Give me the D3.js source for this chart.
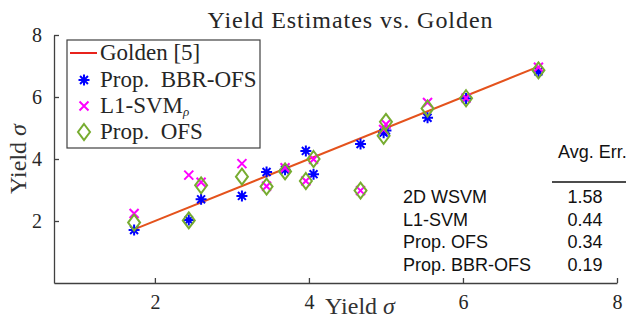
<!DOCTYPE html>
<html lang="en">
<head>
  <script src="https://d3js.org/d3.v7.min.js"></script>
  <style>
    body { margin: 0; background: #fff; }
  </style>
</head>
<body>
<script>
  // golden yield values and the three estimators
  const golden = [1.73, 2.44, 2.60, 3.13, 3.45, 3.69, 3.96, 4.06, 4.67, 4.97, 5.00, 5.54, 6.04, 6.98];
  const bbrOfs = [1.71, 2.03, 2.70, 2.81, 3.58, 3.65, 4.26, 3.51, 4.48, 4.85, 4.92, 5.33, 5.95, 6.82];
  const l1Svm  = [2.24, 3.48, 3.25, 3.85, 3.12, 3.72, 3.29, 3.99, 2.98, 4.95, 5.12, 5.82, 5.97, 6.96];
  const propOfs = [1.95, 2.02, 3.15, 3.43, 3.11, 3.60, 3.29, 4.00, 2.98, 4.75, 5.20, 5.63, 5.96, 6.86];

  const xTicks = [2, 4, 6, 8];
  const yTicks = [2, 4, 6, 8];

  const tableMethods = ["2D WSVM", "L1-SVM", "Prop. OFS", "Prop. BBR-OFS"];
  const tableErrors = ["1.58", "0.44", "0.34", "0.19"];

  const w = 626, h = 320;
  const axisColor = "#404040";
  const SERIF = "'Liberation Serif', 'Times New Roman', serif";
  const SANS = "'Liberation Sans', Arial, sans-serif";

  const svg = d3.select("body").append("svg")
    .attr("width", w)
    .attr("height", h);

  const xScale = d3.scaleLinear().domain([0.69, 8]).range([54, 617]);
  const yScale = d3.scaleLinear().domain([0, 8]).range([283, 35]);

  //axes, ticks pointing inward like matlab
  const xAxis = d3.axisBottom(xScale).tickValues(xTicks).tickSizeInner(-5).tickSizeOuter(0).tickPadding(12);
  const yAxis = d3.axisLeft(yScale).tickValues(yTicks).tickSizeInner(-5).tickSizeOuter(0).tickPadding(12);

  const gx = svg.append("g")
    .attr("transform", "translate(0," + yScale(0) + ")")
    .call(xAxis);
  const gy = svg.append("g")
    .attr("transform", "translate(" + xScale(0.69) + ",0)")
    .call(yAxis);

  [gx, gy].forEach(g => {
    g.attr("font-family", null);
    g.select(".domain").attr("stroke", axisColor).attr("stroke-width", 1.3);
    g.selectAll(".tick line").attr("stroke", axisColor).attr("stroke-width", 1.3);
    g.selectAll(".tick text")
      .style("font-family", SERIF)
      .style("font-size", "20px")
      .attr("fill", "#262626");
  });

  //golden reference line y = x
  const gMin = d3.min(golden), gMax = d3.max(golden);
  svg.append("line")
    .attr("x1", xScale(gMin)).attr("y1", yScale(gMin))
    .attr("x2", xScale(gMax)).attr("y2", yScale(gMax))
    .attr("stroke", "#e4521c")
    .attr("stroke-width", 2);

  //marker shapes
  function star(g, cx, cy, r) {
    const d = r * 0.72;
    g.append("path")
      .attr("d", `M${cx - r},${cy}L${cx + r},${cy}M${cx},${cy - r}L${cx},${cy + r}` +
                 `M${cx - d},${cy - d}L${cx + d},${cy + d}M${cx - d},${cy + d}L${cx + d},${cy - d}`)
      .attr("stroke", "#0000ff").attr("stroke-width", 2).attr("fill", "none");
  }
  function cross(g, cx, cy, r) {
    g.append("path")
      .attr("d", `M${cx - r},${cy - r}L${cx + r},${cy + r}M${cx - r},${cy + r}L${cx + r},${cy - r}`)
      .attr("stroke", "#ff00ff").attr("stroke-width", 2).attr("fill", "none");
  }
  function diamond(g, cx, cy, rx, ry) {
    g.append("path")
      .attr("d", `M${cx},${cy - ry}L${cx + rx},${cy}L${cx},${cy + ry}L${cx - rx},${cy}Z`)
      .attr("stroke", "#77ac30").attr("stroke-width", 2).attr("fill", "none");
  }

  const marks = svg.append("g");
  golden.forEach((gv, i) => star(marks, xScale(gv), yScale(bbrOfs[i]), 5.5));
  golden.forEach((gv, i) => cross(marks, xScale(gv), yScale(l1Svm[i]), 4.5));
  golden.forEach((gv, i) => diamond(marks, xScale(gv), yScale(propOfs[i]), 6, 8));

  //title and axis labels
  svg.append("text")
    .attr("x", 350).attr("y", 28)
    .attr("text-anchor", "middle")
    .style("font-family", SERIF)
    .style("font-size", "24px")
    .attr("fill", "#262626")
    .attr("textLength", 285).attr("lengthAdjust", "spacing")
    .text("Yield Estimates vs. Golden");

  const xl = svg.append("text")
    .attr("x", 360).attr("y", 314)
    .attr("text-anchor", "middle")
    .style("font-family", SERIF)
    .style("font-size", "24px")
    .attr("fill", "#333");
  xl.append("tspan").text("Yield ");
  xl.append("tspan").attr("font-style", "italic").text("σ");

  const yl = svg.append("text")
    .attr("transform", "translate(26,159) rotate(-90)")
    .attr("text-anchor", "middle")
    .style("font-family", SERIF)
    .style("font-size", "24px")
    .attr("fill", "#333");
  yl.append("tspan").text("Yield ");
  yl.append("tspan").attr("font-style", "italic").text("σ");

  //legend
  const leg = svg.append("g");
  leg.append("rect")
    .attr("x", 67).attr("y", 40).attr("width", 193).attr("height", 108)
    .attr("fill", "#fff").attr("stroke", axisColor).attr("stroke-width", 1.2);
  const rowY = [53, 80, 106, 132];
  leg.append("line")
    .attr("x1", 70).attr("x2", 97).attr("y1", rowY[0]).attr("y2", rowY[0])
    .attr("stroke", "#e8231c").attr("stroke-width", 2);
  star(leg, 84, rowY[1], 5.5);
  cross(leg, 84, rowY[2], 4.5);
  diamond(leg, 84, rowY[3], 6, 8);
  const legText = [["Golden [5]"], ["Prop.  BBR-OFS"], ["L1-SVM", "ρ"], ["Prop.  OFS"]];
  legText.forEach((t, i) => {
    const tx = leg.append("text")
      .attr("x", 100).attr("y", rowY[i] + 7)
      .style("font-family", SERIF)
      .style("font-size", "23px")
      .style("white-space", "pre")
      .attr("fill", "#262626");
    tx.append("tspan").text(t[0]);
    if (t[1]) tx.append("tspan").attr("font-style", "italic").style("font-size", "13px").attr("dy", 3).text(t[1]);
  });

  //error table
  const tab = svg.append("g").attr("fill", "#111");
  tab.append("text")
    .attr("x", 558).attr("y", 158)
    .style("font-family", SANS).style("font-size", "18px")
    .text("Avg. Err.");
  tab.append("line")
    .attr("x1", 552).attr("x2", 626).attr("y1", 182).attr("y2", 182)
    .attr("stroke", "#111").attr("stroke-width", 1.3);
  tableMethods.forEach((m, i) => {
    tab.append("text")
      .attr("x", 403).attr("y", 203 + i * 22.7)
      .style("font-family", SANS).style("font-size", "18px")
      .text(m);
    tab.append("text")
      .attr("x", 585).attr("y", 203 + i * 22.7)
      .attr("text-anchor", "middle")
      .style("font-family", SANS).style("font-size", "18px")
      .text(tableErrors[i]);
  });
</script>
</body>
</html>
